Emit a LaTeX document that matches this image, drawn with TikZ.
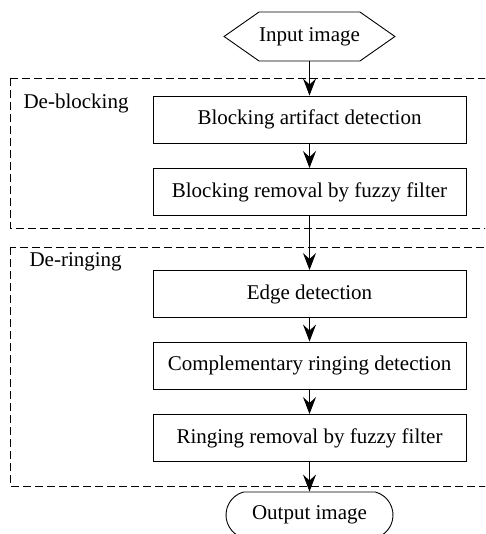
\documentclass[tikz,border=0pt]{standalone}
\usepackage{fontspec}
\setmainfont{Liberation Serif}
\usetikzlibrary{shapes.geometric,shapes.misc,shapes.symbols,arrows.meta}

\begin{document}
\begin{tikzpicture}[x=1pt,y=-1pt,
    every node/.style={font=\fontsize{21}{25}\selectfont},
    etapa/.style={draw,line width=0.9pt,minimum width=313pt,minimum height=47pt,inner sep=0pt},
    flecha/.style={-{Stealth[length=17pt,width=13pt,inset=6pt]},line width=0.9pt},
    grupo/.style={dash pattern=on 8pt off 4pt,line width=0.9pt}]
    \clip (0,0) rectangle (485,534);

    \draw[grupo] (10,78) rectangle (500,228);
    \draw[grupo] (10,247) rectangle (500,486);
    \node[anchor=west] (bloqueo) at (20,103) {De-blocking};
    \node[anchor=west] (anillo) at (26,262) {De-ringing};

    \node[draw,line width=0.9pt,signal,signal to=east and west,signal pointer angle=70,
      minimum width=169pt,minimum height=49pt,inner sep=0pt] (entrada) at (309.5,36.5) {Input image};
    \node[etapa] (deteccion) at (309.5,119.5) {Blocking artifact detection};
    \node[etapa] (remocion) at (309.5,192) {Blocking removal by fuzzy filter};
    \node[etapa] (bordes) at (309.5,294) {Edge detection};
    \node[etapa] (complem) at (309.5,365.5) {Complementary ringing detection};
    \node[etapa] (filtro) at (309.5,438) {Ringing removal by fuzzy filter};
    \node[draw,line width=0.9pt,rounded rectangle,rounded rectangle arc length=150,
      minimum width=167pt,minimum height=46pt,inner sep=0pt] (salida) at (309.5,515) {Output image};

    \draw[flecha] (entrada.south) -- (deteccion.north);
    \draw[flecha] (deteccion.south) -- (remocion.north);
    \draw[flecha] (remocion.south) -- (bordes.north);
    \draw[flecha] (bordes.south) -- (complem.north);
    \draw[flecha] (complem.south) -- (filtro.north);
    \draw[flecha] (filtro.south) -- (salida.north);
  \end{tikzpicture}
\end{document}
